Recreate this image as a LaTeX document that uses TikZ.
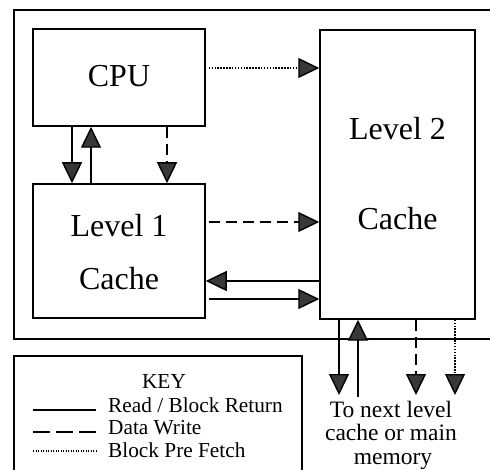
\documentclass[tikz,border=0pt]{standalone}
\usepackage{fontspec}
\setmainfont{Liberation Serif}
\usetikzlibrary{arrows.meta,calc}
\definecolor{tipgray}{HTML}{383838}
\tikzset{
  box/.style={draw, line width=1.5pt, inner sep=0pt},
  link/.style={line width=1.4pt, -{Triangle[length=21pt,width=20pt,fill=tipgray]}},
  rd/.style={link},
  wr/.style={link, dash pattern=on 11pt off 6pt},
  pf/.style={link, dash pattern=on 1.5pt off 1.4pt},
  big/.style={font=\fontsize{32}{32}\selectfont, inner sep=0pt},
  keytext/.style={font=\fontsize{21.3}{21.3}\selectfont, inner sep=0pt},
  nexttext/.style={font=\fontsize{23.5}{23.5}\selectfont, inner sep=0pt, anchor=base},
  keyline/.style={line width=1.4pt},
}
\begin{document}
\begin{tikzpicture}[x=1pt,y=-1pt]
\useasboundingbox (0,0) rectangle (490,470);
\clip (0,0) rectangle (490,470);
\fill[white] (0,0) rectangle (490,470);

% outer frame and key frame (both run past the page edge)
\draw[line width=1.7pt] (14,10) rectangle (520,339);
\draw[line width=1.5pt] (14,356) rectangle (302,500);

% blocks
\node[box, minimum width=172pt, minimum height=97pt] (cpu) at (119,77.5) {};
\node[box, minimum width=172pt, minimum height=134pt] (l1) at (119,251) {};
\node[box, minimum width=155pt, minimum height=289pt] (l2) at (397.5,174.5) {};

\node[big, anchor=base] (cpulbl) at (119,87) {CPU};
\node[big, anchor=base] (l1a) at (119,237) {Level 1};
\node[big, anchor=base] (l1b) at (119,290) {Cache};
\node[big, anchor=base] (l2a) at (397.5,140) {Level 2};
\node[big, anchor=base] (l2b) at (397.5,230) {Cache};

% CPU <-> Level 1
\coordinate (c1) at ([xshift=-47pt]cpu.south);
\coordinate (c2) at ([xshift=-28pt]cpu.south);
\coordinate (c3) at ([xshift=48pt]cpu.south);
\draw[rd] (c1) -- (c1 |- l1.north);
\draw[rd] (c2 |- l1.north) -- (c2);
\draw[wr] (c3) -- (c3 |- l1.north);

% CPU -> Level 2 prefetch
\coordinate (p1) at ($(cpu.east)+(3,-9.5)$);
\draw[pf] (p1) -- (p1 -| l2.west);

% Level 1 <-> Level 2
\coordinate (w1) at ($(l1.east)+(3,-29)$);
\coordinate (r1) at ([yshift=-106.5pt]l2.west);
\coordinate (r2) at ($(l1.east)+(3,48)$);
\draw[wr] (w1) -- (w1 -| l2.west);
\draw[rd] (r1) -- (r1 -| l1.east);
\draw[rd] (r2) -- (r2 -| l2.west);

% Level 2 <-> next level
\coordinate (d1) at (339,395);
\coordinate (d2) at (358,397);
\coordinate (d3) at (416,395);
\coordinate (d4) at (455,395);
\draw[rd] (d1 |- l2.south) -- (d1);
\draw[rd] (d2) -- (d2 |- l2.south);
\draw[wr] (d3 |- l2.south) -- (d3);
\draw[pf] (d4 |- l2.south) -- (d4);

\node[nexttext] (n1) at (391,417) {To next level};
\node[nexttext] (n2) at (391,440.5) {cache or main};
\node[nexttext] (n3) at (393,464) {memory};

% key
\node[keytext, anchor=base] (keyhead) at (164,388) {KEY};
\coordinate (k1) at (33,410);
\coordinate (k2) at (33,432);
\coordinate (k3) at (33,451);
\draw[keyline] (k1) -- ++(63,0);
\draw[keyline, dash pattern=on 17pt off 6pt] (k2) -- ++(63,0);
\draw[keyline, dash pattern=on 1.2pt off 1.3pt] (k3) -- ++(63,0);
\node[keytext, anchor=base west] (t1) at (108,412) {Read / Block Return};
\node[keytext, anchor=base west] (t2) at (108,434) {Data Write};
\node[keytext, anchor=base west] (t3) at (108,457) {Block Pre Fetch};
\end{tikzpicture}
\end{document}
